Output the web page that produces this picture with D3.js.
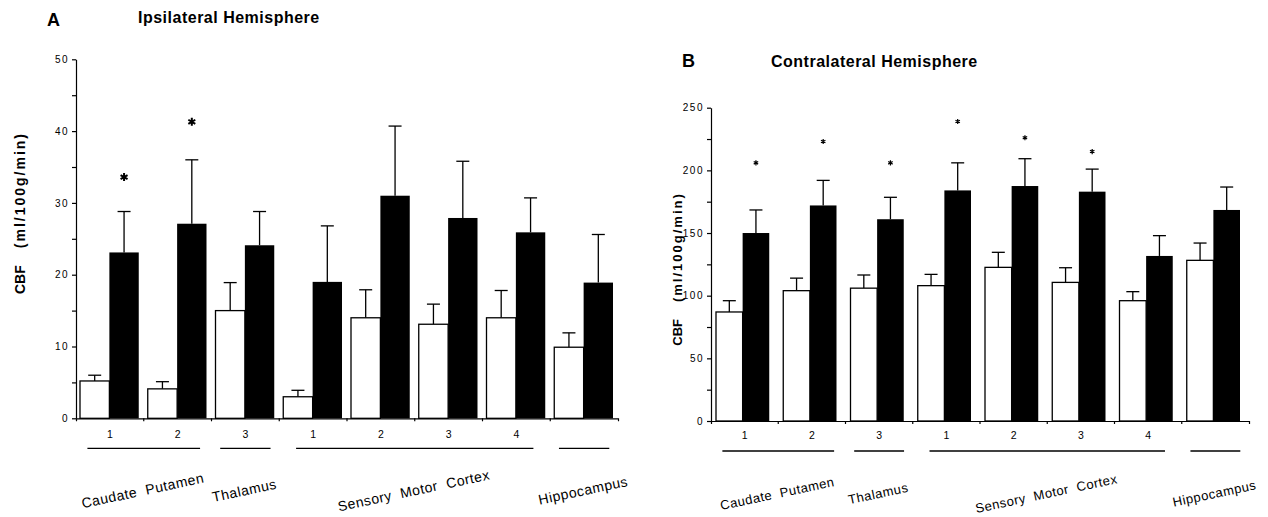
<!DOCTYPE html>
<html>
<head>
<meta charset="utf-8">
<script src="https://cdn.jsdelivr.net/npm/d3@7"></script>
<style>
  body { margin: 0; background: #fff; }
  svg { display: block; font-family: "Liberation Sans", Arial, Helvetica, sans-serif; }
</style>
</head>
<body>
<svg id="chart" width="1268" height="517"></svg>
<script>
// sub-region number under each pair of bars
const groupLabels = ['1', '2', '3', '1', '2', '3', '4', ''];

// brain regions, spanning groups regionFirst..regionLast
const regionNames = ['Caudate  Putamen', 'Thalamus', 'Sensory  Motor  Cortex', 'Hippocampus'];
const regionFirst = [0, 2, 3, 7];
const regionLast = [1, 2, 6, 7];

// A: ipsilateral hemisphere, CBF ml/100g/min (mean and SEM)
const ipsiControl = [5.2, 4.1, 15.0, 3.0, 14.0, 13.1, 14.0, 9.9];
const ipsiControlSem = [0.8, 1.0, 3.9, 0.9, 3.9, 2.8, 3.8, 2.0];
const ipsiTreated = [23.1, 27.1, 24.1, 19.0, 31.0, 27.9, 25.9, 18.9];
const ipsiTreatedSem = [5.7, 8.9, 4.7, 7.8, 9.7, 7.9, 4.8, 6.7];
// level of the significance asterisk (null = none)
const ipsiStars = [33.6, 41.3, null, null, null, null, null, null];

// B: contralateral hemisphere
const contraControl = [87, 104, 106, 108, 122.6, 110.6, 96, 128.2];
const contraControlSem = [9, 10, 10.5, 9, 12, 11.7, 7.2, 13.8];
const contraTreated = [150, 172, 161, 184, 187.5, 183, 131.7, 168.4];
const contraTreatedSem = [18.4, 20, 17.5, 22, 21.8, 18, 16.2, 18.3];
const contraStars = [206, 223, 206, 239, 226, 215, null, null];

const svg = d3.select('#chart');

function drawPanel(p) {
  const g = svg.append('g');

  const x = d3.scaleBand()
    .domain(d3.range(groupLabels.length))
    .range([p.x0, p.x1])
    .padding(0);

  const xs = d3.scaleBand()
    .domain(['c', 't'])
    .range([p.padL, x.bandwidth() - p.padR]);

  const y = d3.scaleLinear()
    .domain([0, p.yMax])
    .range([p.y0, p.y1]);

  const rows = groupLabels.map((lab, i) => ({
    i,
    c: p.control[i], cs: p.controlSem[i],
    t: p.treated[i], ts: p.treatedSem[i],
    star: p.stars[i]
  }));

  // error bars first so bar tops sit over them
  const capW = 13;
  const errs = [];
  rows.forEach(d => {
    errs.push({ cx: x(d.i) + xs('c') + xs.bandwidth() / 2, v: d.c, e: d.c + d.cs });
    errs.push({ cx: x(d.i) + xs('t') + xs.bandwidth() / 2, v: d.t, e: d.t + d.ts });
  });

  const eg = g.append('g').attr('stroke', '#000').attr('stroke-width', 1.3);
  eg.selectAll('.stem').data(errs).enter().append('line')
    .attr('x1', d => d.cx).attr('x2', d => d.cx)
    .attr('y1', d => y(d.v)).attr('y2', d => y(d.e));
  eg.selectAll('.cap').data(errs).enter().append('line')
    .attr('x1', d => d.cx - capW / 2).attr('x2', d => d.cx + capW / 2)
    .attr('y1', d => y(d.e)).attr('y2', d => y(d.e));

  // control bars (open)
  g.append('g').selectAll('rect').data(rows).enter().append('rect')
    .attr('fill', '#fff')
    .attr('stroke', '#000')
    .attr('stroke-width', 1.3)
    .attr('x', d => x(d.i) + xs('c'))
    .attr('y', d => y(d.c))
    .attr('width', xs.bandwidth())
    .attr('height', d => y(0) - y(d.c));

  // treated bars (filled)
  g.append('g').selectAll('rect').data(rows).enter().append('rect')
    .attr('fill', '#000')
    .attr('x', d => x(d.i) + xs('t'))
    .attr('y', d => y(d.t))
    .attr('width', xs.bandwidth())
    .attr('height', d => y(0) - y(d.t));

  // asterisks
  g.append('g').selectAll('path').data(rows.filter(d => d.star != null)).enter().append('path')
    .attr('d', d3.symbol(d3.symbolAsterisk, p.starSize))
    .attr('transform', d => `translate(${x(d.i) + xs('t') + xs.bandwidth() / 2},${y(d.star)})`)
    .attr('stroke', '#000')
    .attr('stroke-width', p.starStroke);

  // y axis: labelled major ticks and unlabelled minor ticks
  const yMajor = d3.range(0, p.yMax + 1e-9, p.yStep);
  const yMinor = d3.range(p.yStep / 2, p.yMax, p.yStep);

  g.append('g')
    .attr('transform', `translate(${p.x0},0)`)
    .call(d3.axisLeft(y).tickValues(yMajor).tickSize(4).tickSizeOuter(0).tickPadding(3))
    .call(a => a.attr('font-family', null).attr('font-size', 10).style('letter-spacing', '1.5px'))
    .call(a => a.selectAll('path, line').attr('stroke-width', 1.2));

  g.append('g')
    .attr('transform', `translate(${p.x0},0)`)
    .call(d3.axisLeft(y).tickValues(yMinor).tickSize(4).tickFormat(''))
    .call(a => a.select('.domain').remove())
    .call(a => a.selectAll('line').attr('stroke-width', 1.2));

  // x axis: numbers centred in groups, ticks at group edges
  const xg = g.append('g')
    .attr('transform', `translate(0,${p.y0})`)
    .call(d3.axisBottom(x).tickSize(0).tickSizeOuter(3).tickPadding(p.xLabelPad).tickFormat(i => groupLabels[i]))
    .call(a => a.attr('font-family', null).attr('font-size', 10.5))
    .call(a => a.select('.domain').attr('stroke-width', 1.2));

  xg.selectAll('.edge').data(d3.range(1, groupLabels.length)).enter().append('line')
    .attr('stroke', '#000')
    .attr('stroke-width', 1.2)
    .attr('x1', i => x(i)).attr('x2', i => x(i))
    .attr('y1', 0).attr('y2', 3);

  // region underlines and slanted names
  const regions = regionNames.map((name, k) => {
    const a = x(regionFirst[k]);
    const b = x(regionLast[k]) + x.bandwidth();
    const inset = 6 + 0.04 * (b - a);
    return { name, a: a + inset, b: b - inset };
  });

  g.append('g').selectAll('line').data(regions).enter().append('line')
    .attr('stroke', '#000')
    .attr('stroke-width', 1.3)
    .attr('x1', d => d.a).attr('x2', d => d.b)
    .attr('y1', p.y0 + 30).attr('y2', p.y0 + 30);

  g.append('g').selectAll('text').data(regions).enter().append('text')
    .attr('transform', d => `translate(${(d.a + d.b) / 2},${p.y0 + 77}) rotate(-12)`)
    .attr('text-anchor', 'middle')
    .attr('font-size', p.regionFont)
    .style('letter-spacing', '0.5px')
    .style('white-space', 'pre')
    .text(d => d.name);

  // y title
  const yt = g.append('text')
    .attr('transform', `translate(${p.yTitleX},${p.yTitleY}) rotate(-90)`)
    .attr('text-anchor', 'middle')
    .attr('font-weight', 'bold')
    .attr('font-size', p.yTitleFont)
    .style('white-space', 'pre');
  yt.append('tspan').text('CBF');
  yt.append('tspan').attr('dx', 17).style('letter-spacing', '2px').text('(ml/100g/min)');

  // panel letter and heading
  g.append('text')
    .attr('x', p.letterX).attr('y', p.letterY)
    .attr('font-weight', 'bold').attr('font-size', 18)
    .text(p.letter);
  g.append('text')
    .attr('x', p.titleX).attr('y', p.titleY)
    .attr('font-weight', 'bold').attr('font-size', 16)
    .style('letter-spacing', '0.5px')
    .text(p.title);
}

drawPanel({
  letter: 'A', title: 'Ipsilateral Hemisphere',
  letterX: 47, letterY: 26, titleX: 138, titleY: 23,
  x0: 76, x1: 618, y0: 418.3, y1: 59.3,
  padL: 4, padR: 5,
  yMax: 50, yStep: 10,
  xLabelPad: 12,
  control: ipsiControl, controlSem: ipsiControlSem,
  treated: ipsiTreated, treatedSem: ipsiTreatedSem,
  stars: ipsiStars, starSize: 45, starStroke: 2,
  regionFont: 14,
  yTitleX: 25, yTitleY: 213, yTitleFont: 14
});

drawPanel({
  letter: 'B', title: 'Contralateral Hemisphere',
  letterX: 682, letterY: 67, titleX: 771, titleY: 67,
  x0: 711, x1: 1249, y0: 421, y1: 107.7,
  padL: 5, padR: 9,
  yMax: 250, yStep: 50,
  xLabelPad: 11,
  control: contraControl, controlSem: contraControlSem,
  treated: contraTreated, treatedSem: contraTreatedSem,
  stars: contraStars, starSize: 18, starStroke: 1.2,
  regionFont: 13,
  yTitleX: 682, yTitleY: 269, yTitleFont: 13
});
</script>
</body>
</html>
